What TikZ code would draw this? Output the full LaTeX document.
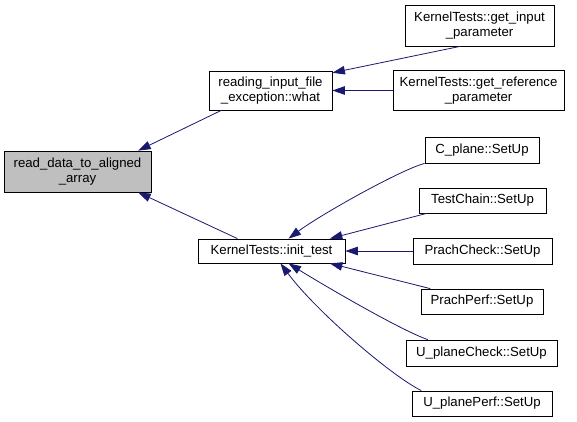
\documentclass[tikz,border=0pt]{standalone}
\usepackage{fontspec}
\setmainfont{Liberation Sans}
\usetikzlibrary{arrows.meta}
\definecolor{edgeblue}{HTML}{191970}
\definecolor{mainfill}{HTML}{BFBFBF}
\begin{document}
\begin{tikzpicture}[x=1pt,y=-1pt,
  box/.style={draw=black, line width=0.8pt, fill=white, inner sep=0pt, align=center, font=\fontsize{13.2}{14.5}\selectfont},
  edge/.style={draw=edgeblue, line width=0.8pt, -{Triangle[length=12.5pt,width=8.5pt]}},
]
\useasboundingbox[fill=white] (0,0) rectangle (577,422);
\node[box, fill=mainfill, minimum width=147pt, minimum height=41pt] (rd) at (77.5,171.5) {read\_data\_to\_aligned\\\_array};
\node[box, minimum width=123pt, minimum height=39pt] (ri) at (270.5,90.5) {reading\_input\_file\\\_exception::what};
\node[box, minimum width=149pt, minimum height=41pt] (gi) at (479.5,25.5) {KernelTests::get\_input\\\_parameter};
\node[box, minimum width=171pt, minimum height=40pt] (gr) at (478.5,90.5) {KernelTests::get\_reference\\\_parameter};
\node[box, minimum width=147pt, minimum height=24pt] (it) at (271.5,251) {KernelTests::init\_test};
\node[box, minimum width=114pt, minimum height=26pt] (cp) at (482,150) {C\_plane::SetUp};
\node[box, minimum width=127pt, minimum height=25pt] (tc) at (482.5,200.5) {TestChain::SetUp};
\node[box, minimum width=139pt, minimum height=26pt] (pc) at (482.5,251) {PrachCheck::SetUp};
\node[box, minimum width=122pt, minimum height=25pt] (pp) at (482,301.5) {PrachPerf::SetUp};
\node[box, minimum width=151pt, minimum height=26pt] (uc) at (481.5,353) {U\_planeCheck::SetUp};
\node[box, minimum width=140pt, minimum height=25pt] (up) at (482,403.5) {U\_planePerf::SetUp};
\draw[edge] (ri.-158) -- (rd.19.6);
\draw[edge] (it.160.3) -- (rd.-19.6);
\draw[edge] (gi.-133.6) -- (ri.16.7);
\draw[edge] (gr.west) -- (ri.east);
\draw[edge] (cp.south west) .. controls (400,170) and (320,215) .. (it.36);
\draw[edge] (tc.-167.1) -- (it.12.6);
\draw[edge] (pc.west) -- (it.east);
\draw[edge] (pp.166) -- (it.-12.6);
\draw[edge] (uc.166.6) .. controls (400,330) and (320,283) .. (it.-36);
\draw[edge] (up.168.6) .. controls (390,375) and (315,310) .. (it.-54.7);
\end{tikzpicture}
\end{document}
